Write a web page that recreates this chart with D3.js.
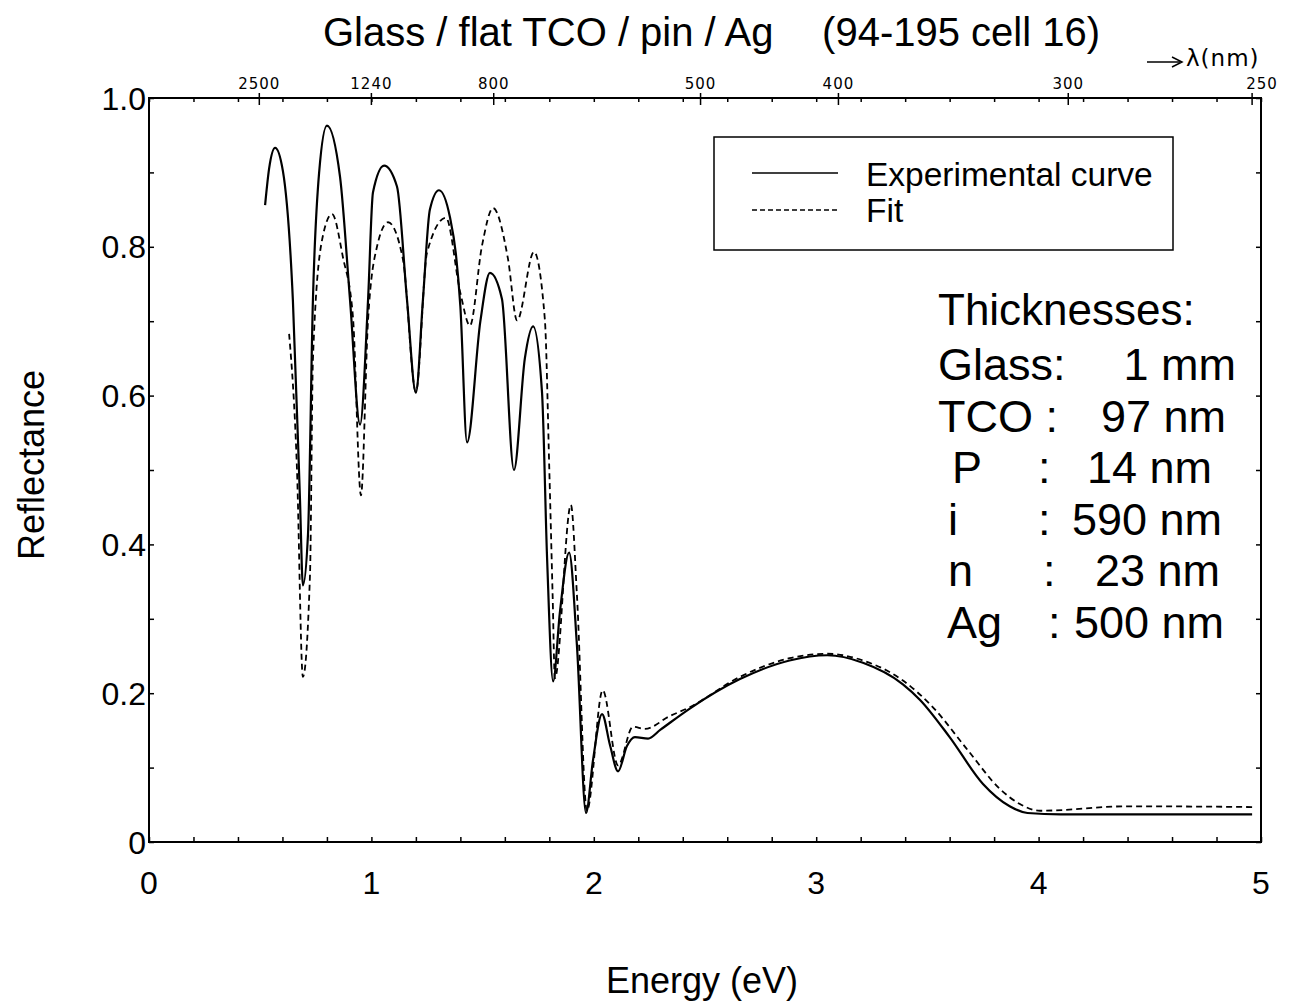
<!DOCTYPE html>
<html>
<head>
<meta charset="utf-8">
<script src="https://cdn.jsdelivr.net/npm/d3@7"></script>
<style>
  body { margin: 0; background: #fff; }
  svg { display: block; font-family: "Liberation Sans", Arial, sans-serif; }
  .tick line { stroke: #000; stroke-width: 1.5; }
  .domain { display: none; }
</style>
</head>
<body>
<svg id="chart"></svg>
<script>
const width = 1306;
const height = 1001;
const margin = { top: 98, right: 45, bottom: 159, left: 149 };

// experimental curve (solid), energy in eV / reflectance
const expEnergy = [0.522, 0.54, 0.567, 0.602, 0.647, 0.679, 0.692, 0.715, 0.737, 0.765, 0.80, 0.859, 0.904, 0.949, 0.985,
  1.007, 1.057, 1.115, 1.16, 1.20, 1.232, 1.263, 1.304, 1.353, 1.38, 1.40, 1.43, 1.49, 1.533, 1.587, 1.641, 1.69, 1.727,
  1.767, 1.79, 1.817, 1.848, 1.889, 1.924, 1.965, 1.996, 2.037, 2.073, 2.109, 2.149, 2.185, 2.244, 2.30, 2.43, 2.657,
  2.88, 3.05, 3.21, 3.39, 3.467, 3.60, 3.75, 3.87, 3.95, 4.10, 4.50, 4.96];
const expRefl = [0.856, 0.905, 0.933, 0.902, 0.728, 0.459, 0.345, 0.414, 0.728, 0.90, 0.963, 0.894, 0.728, 0.561, 0.729,
  0.873, 0.909, 0.881, 0.729, 0.604, 0.73, 0.85, 0.876, 0.84, 0.79, 0.72, 0.537, 0.70, 0.765, 0.73, 0.50, 0.65, 0.693,
  0.605, 0.381, 0.216, 0.31, 0.389, 0.265, 0.039, 0.109, 0.172, 0.13, 0.095, 0.129, 0.141, 0.139, 0.151, 0.179, 0.219,
  0.244, 0.251, 0.241, 0.212, 0.191, 0.141, 0.078, 0.048, 0.039, 0.037, 0.037, 0.037];

// fit (dashed)
const fitEnergy = [0.63, 0.665, 0.692, 0.724, 0.737, 0.778, 0.823, 0.872, 0.917, 0.953, 0.985, 1.025, 1.075, 1.142, 1.20,
  1.25, 1.335, 1.40, 1.443, 1.497, 1.547, 1.614, 1.655, 1.731, 1.78, 1.80, 1.815, 1.825, 1.897, 1.924, 1.969, 2.04, 2.109,
  2.176, 2.23, 2.34, 2.43, 2.657, 2.88, 3.05, 3.21, 3.39, 3.525, 3.68, 3.827, 3.916, 4.006, 4.40, 4.96];
const fitRefl = [0.683, 0.504, 0.222, 0.36, 0.648, 0.809, 0.844, 0.786, 0.706, 0.466, 0.702, 0.80, 0.833, 0.783, 0.605,
  0.792, 0.839, 0.738, 0.694, 0.801, 0.852, 0.784, 0.701, 0.793, 0.702, 0.50, 0.33, 0.22, 0.453, 0.333, 0.042, 0.204, 0.103,
  0.155, 0.152, 0.169, 0.181, 0.222, 0.247, 0.253, 0.244, 0.217, 0.181, 0.124, 0.071, 0.051, 0.042, 0.048, 0.047];

const energyTicks = [0, 1, 2, 3, 4, 5];
const reflTicks = [0, 0.2, 0.4, 0.6, 0.8, 1.0];
const wavelengthTicks = [2500, 1240, 800, 500, 400, 300, 250];

const legendLabels = ["Experimental curve", "Fit"];
const thickLayers = ["Glass:", "TCO :", "P", "i", "n", "Ag"];
const thickValues = ["1 mm", "97 nm", "14 nm", "590 nm", "23 nm", "500 nm"];

const svg = d3.select("#chart").attr("width", width).attr("height", height);
svg.append("rect").attr("width", width).attr("height", height).attr("fill", "#fff");

const x = d3.scaleLinear().domain([0, 5]).range([margin.left, width - margin.right]);
const y = d3.scaleLinear().domain([0, 1]).range([height - margin.bottom, margin.top]);

// frame
svg.append("rect")
  .attr("x", x(0)).attr("y", y(1))
  .attr("width", x(5) - x(0)).attr("height", y(0) - y(1))
  .attr("fill", "none").attr("stroke", "#000").attr("stroke-width", 2);

// small inward ticks on all four sides
const minorE = d3.range(0, 5.001, 0.2);
const minorR = d3.range(0, 1.001, 0.1);
svg.append("g").attr("transform", `translate(0,${y(0)})`)
  .call(d3.axisBottom(x).tickValues(minorE).tickSize(-5).tickFormat(""));
svg.append("g").attr("transform", `translate(0,${y(1)})`)
  .call(d3.axisTop(x).tickValues(minorE).tickSize(-4).tickFormat(""));
svg.append("g").attr("transform", `translate(${x(0)},0)`)
  .call(d3.axisLeft(y).tickValues(minorR).tickSize(-5).tickFormat(""));
svg.append("g").attr("transform", `translate(${x(5)},0)`)
  .call(d3.axisRight(y).tickValues(minorR).tickSize(-5).tickFormat(""));

// tick labels
svg.append("g").selectAll("text")
  .data(energyTicks)
  .join("text")
  .attr("x", d => x(d))
  .attr("y", y(0) + 52)
  .attr("text-anchor", "middle")
  .attr("font-size", 32)
  .text(d => d);

svg.append("g").selectAll("text")
  .data(reflTicks)
  .join("text")
  .attr("x", x(0) - 3)
  .attr("y", d => y(d))
  .attr("dy", "0.36em")
  .attr("text-anchor", "end")
  .attr("font-size", 32)
  .text(d => d === 0 ? "0" : d3.format(".1f")(d));

// wavelength axis on top (E = 1240 / lambda)
const lamAxis = svg.append("g");
lamAxis.selectAll("line")
  .data(wavelengthTicks)
  .join("line")
  .attr("x1", d => x(1240 / d)).attr("x2", d => x(1240 / d))
  .attr("y1", y(1) - 5).attr("y2", y(1) + 7)
  .attr("stroke", "#000").attr("stroke-width", 1.5);
lamAxis.selectAll("text")
  .data(wavelengthTicks)
  .join("text")
  .attr("x", d => x(1240 / d) + (d === 250 ? 10 : 0))
  .attr("y", y(1) - 9)
  .attr("text-anchor", "middle")
  .attr("font-family", "DejaVu Sans")
  .attr("font-size", 15)
  .attr("letter-spacing", 1)
  .text(d => d);

const lamLabel = svg.append("g");
lamLabel.append("line")
  .attr("x1", 1147).attr("x2", 1180).attr("y1", 62).attr("y2", 62)
  .attr("stroke", "#000").attr("stroke-width", 1.5);
lamLabel.append("path")
  .attr("d", "M1172,57 L1182,62 L1172,67")
  .attr("fill", "none").attr("stroke", "#000").attr("stroke-width", 1.5);
lamLabel.append("text")
  .attr("x", 1186).attr("y", 66)
  .attr("font-family", "DejaVu Sans")
  .attr("font-size", 23)
  .attr("letter-spacing", 1)
  .text("λ(nm)");

// curves
const line = d3.line()
  .x(d => x(d[0]))
  .y(d => y(d[1]))
  .curve(d3.curveMonotoneX);

svg.append("path")
  .datum(d3.zip(fitEnergy, fitRefl))
  .attr("d", line)
  .attr("fill", "none")
  .attr("stroke", "#000")
  .attr("stroke-width", 1.8)
  .attr("stroke-dasharray", "6,4");

svg.append("path")
  .datum(d3.zip(expEnergy, expRefl))
  .attr("d", line)
  .attr("fill", "none")
  .attr("stroke", "#000")
  .attr("stroke-width", 2.2);

// legend
const legend = svg.append("g");
legend.append("rect")
  .attr("x", 714).attr("y", 137).attr("width", 459).attr("height", 113)
  .attr("fill", "#fff").attr("stroke", "#000").attr("stroke-width", 1.5);
legend.selectAll("line")
  .data(legendLabels)
  .join("line")
  .attr("x1", 752).attr("x2", 838)
  .attr("y1", (d, i) => 173 + i * 37).attr("y2", (d, i) => 173 + i * 37)
  .attr("stroke", "#000")
  .attr("stroke-width", 1.5)
  .attr("stroke-dasharray", (d, i) => i ? "5,3" : null);
legend.selectAll("text")
  .data(legendLabels)
  .join("text")
  .attr("x", 866)
  .attr("y", (d, i) => 186 + i * 36)
  .attr("font-size", 33.5)
  .text(d => d);

// thickness table
svg.append("text")
  .attr("x", 938).attr("y", 325)
  .attr("font-size", 44)
  .text("Thicknesses:");

const layerX = [938, 938, 952, 948, 948, 947];
const colonX = [null, null, 1038, 1038, 1043, 1048];
const valueEnd = [1236, 1226, 1212, 1222, 1220, 1224];

const rows = svg.append("g").selectAll("g")
  .data(thickLayers)
  .join("g")
  .attr("transform", (d, i) => `translate(0,${380 + i * 51.6})`)
  .attr("font-size", 45);
rows.append("text")
  .attr("x", (d, i) => layerX[i])
  .text(d => d);
rows.append("text")
  .attr("x", (d, i) => colonX[i] || 0)
  .text((d, i) => colonX[i] ? ":" : "");
rows.append("text")
  .attr("x", (d, i) => valueEnd[i])
  .attr("text-anchor", "end")
  .text((d, i) => thickValues[i]);

// titles
svg.append("text")
  .attr("x", 323).attr("y", 46)
  .attr("font-size", 40)
  .text("Glass / flat TCO / pin / Ag");
svg.append("text")
  .attr("x", 1100).attr("y", 46)
  .attr("text-anchor", "end")
  .attr("font-size", 40)
  .text("(94-195 cell 16)");

svg.append("text")
  .attr("x", 702).attr("y", 993)
  .attr("text-anchor", "middle")
  .attr("font-size", 36)
  .text("Energy (eV)");

svg.append("text")
  .attr("transform", `translate(44,${465}) rotate(-90)`)
  .attr("text-anchor", "middle")
  .attr("font-size", 36)
  .text("Reflectance");
</script>
</body>
</html>
